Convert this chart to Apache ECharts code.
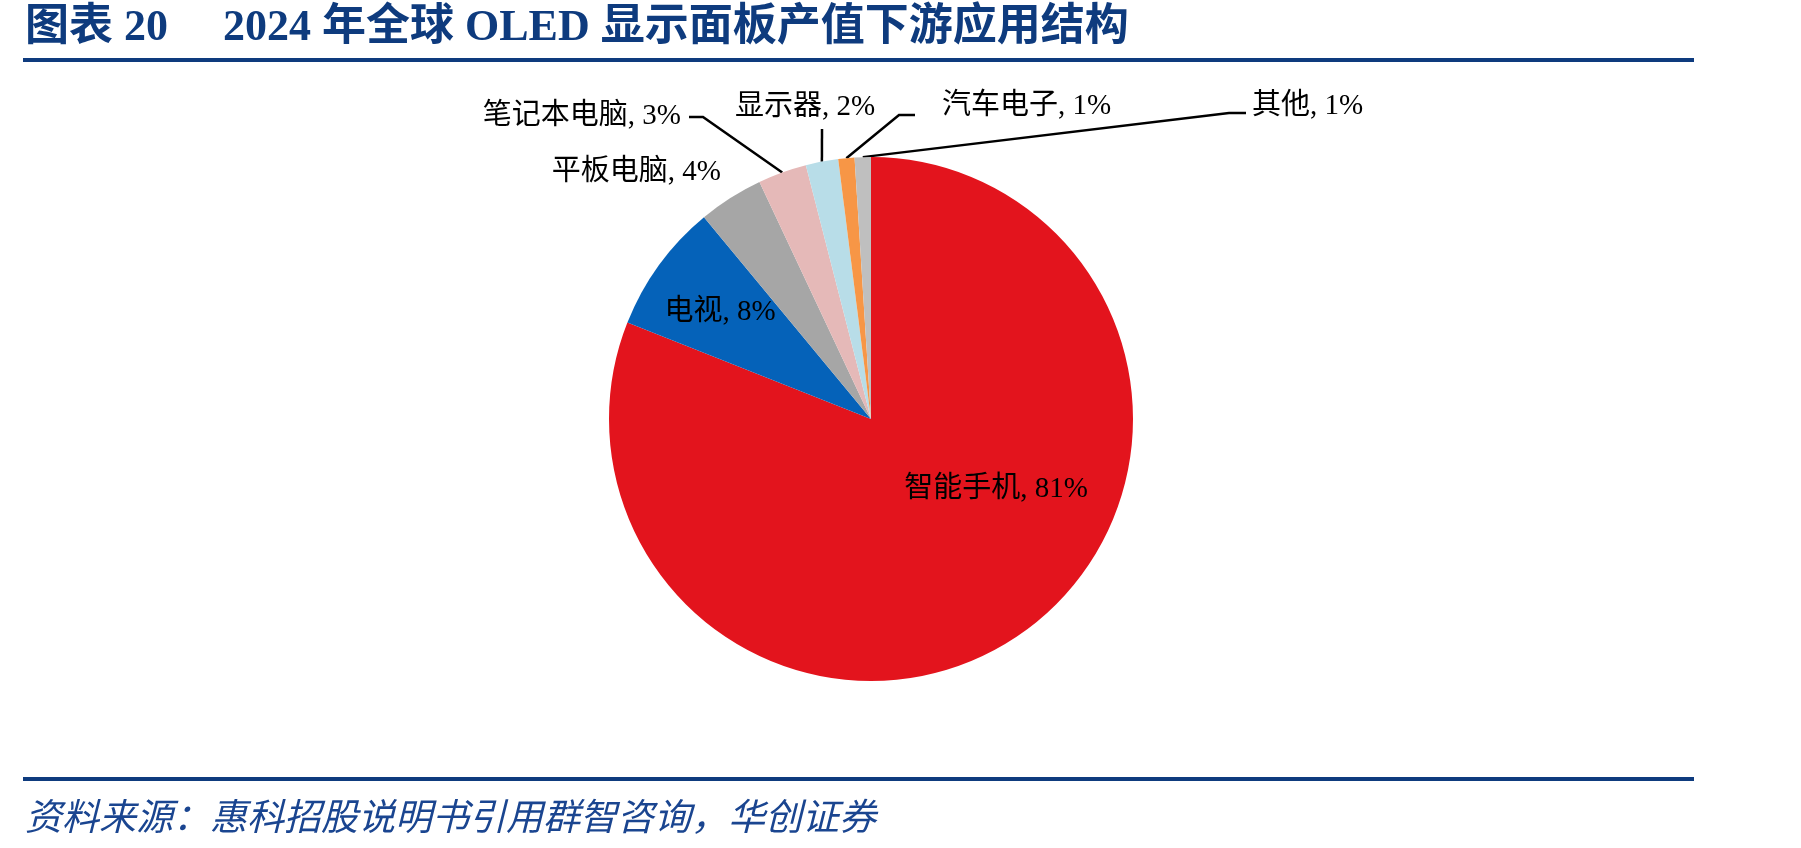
<!DOCTYPE html>
<html><head><meta charset="utf-8">
<script src="https://cdn.jsdelivr.net/npm/echarts@6/dist/echarts.min.js"></script>
<style>html,body{margin:0;padding:0;background:#fff}#c{width:1801px;height:848px}</style>
</head><body><div id="c"></div>
<script>
// ---- data ----
const categories = ['智能手机', '电视', '平板电脑', '笔记本电脑', '显示器', '汽车电子', '其他'];
const shares = [81, 8, 4, 3, 2, 1, 1];
const sliceColors = ['#E3141D', '#0562B9', '#A6A6A6', '#E5B9B8', '#B8DDE8', '#F79646', '#BFBFBF'];
const titleText = '图表 20     2024 年全球 OLED 显示面板产值下游应用结构';
const sourceText = '资料来源：惠科招股说明书引用群智咨询，华创证券';

// ---- layout (pixels) ----
const labelPos = [
  {x: 996, y: 489, align: 'center'},
  {x: 720, y: 312, align: 'center'},
  {x: 721, y: 172, align: 'right'},
  {x: 681, y: 116, align: 'right'},
  {x: 805, y: 107, align: 'center'},
  {x: 942, y: 106, align: 'left'},
  {x: 1252, y: 106, align: 'left'}
];
const lineBends = [null, null, null,
  [[703, 117], [689, 117]],
  [[822, 129]],
  [[899, 115], [915, 115]],
  [[1229, 113], [1246, 113]]
];
const inside = [true, true, false, false, false, false, false];
const showLine = [false, false, false, true, true, true, true];

const chart = echarts.init(document.getElementById('c'), null, {renderer: 'canvas'});
const NAVY = '#0E3B7E';
const labelFont = '"Liberation Serif", "Noto Sans CJK SC", serif';

const data = categories.map((name, i) => ({
  name, value: shares[i],
  itemStyle: {color: sliceColors[i]},
  label: {position: inside[i] ? 'inside' : 'outside'},
  labelLine: {show: showLine[i]}
}));

chart.setOption({
  animation: false,
  backgroundColor: '#fff',
  graphic: [
    {type: 'text', left: 25, top: 7, style: {text: titleText, fill: NAVY,
      font: 'bold 44px "Liberation Serif", "Noto Sans CJK SC", serif'}},
    {type: 'rect', shape: {x: 23, y: 58, width: 1671, height: 4}, style: {fill: NAVY}},
    {type: 'rect', shape: {x: 23, y: 777, width: 1671, height: 4}, style: {fill: NAVY}},
    {type: 'text', left: 25, top: 797, style: {text: sourceText, fill: '#1A4590',
      font: 'italic 37px "Noto Sans CJK SC", sans-serif'}}
  ],
  series: [{
    type: 'pie',
    center: [871, 419],
    radius: [0, 262],
    startAngle: 90,
    clockwise: true,
    avoidLabelOverlap: false,
    data,
    label: {
      show: true,
      formatter: '{b}, {c}%',
      color: '#000',
      fontSize: 29,
      fontFamily: labelFont
    },
    labelLine: {lineStyle: {color: '#000', width: 2.5}},
    emphasis: {disabled: true},
    labelLayout: function (params) {
      const i = params.dataIndex;
      const p = labelPos[i];
      const out = {x: p.x, y: p.y, align: p.align, verticalAlign: 'middle'};
      if (lineBends[i] && params.labelLinePoints) {
        out.labelLinePoints = [params.labelLinePoints[0]].concat(lineBends[i]);
      }
      return out;
    }
  }]
});
</script></body></html>
